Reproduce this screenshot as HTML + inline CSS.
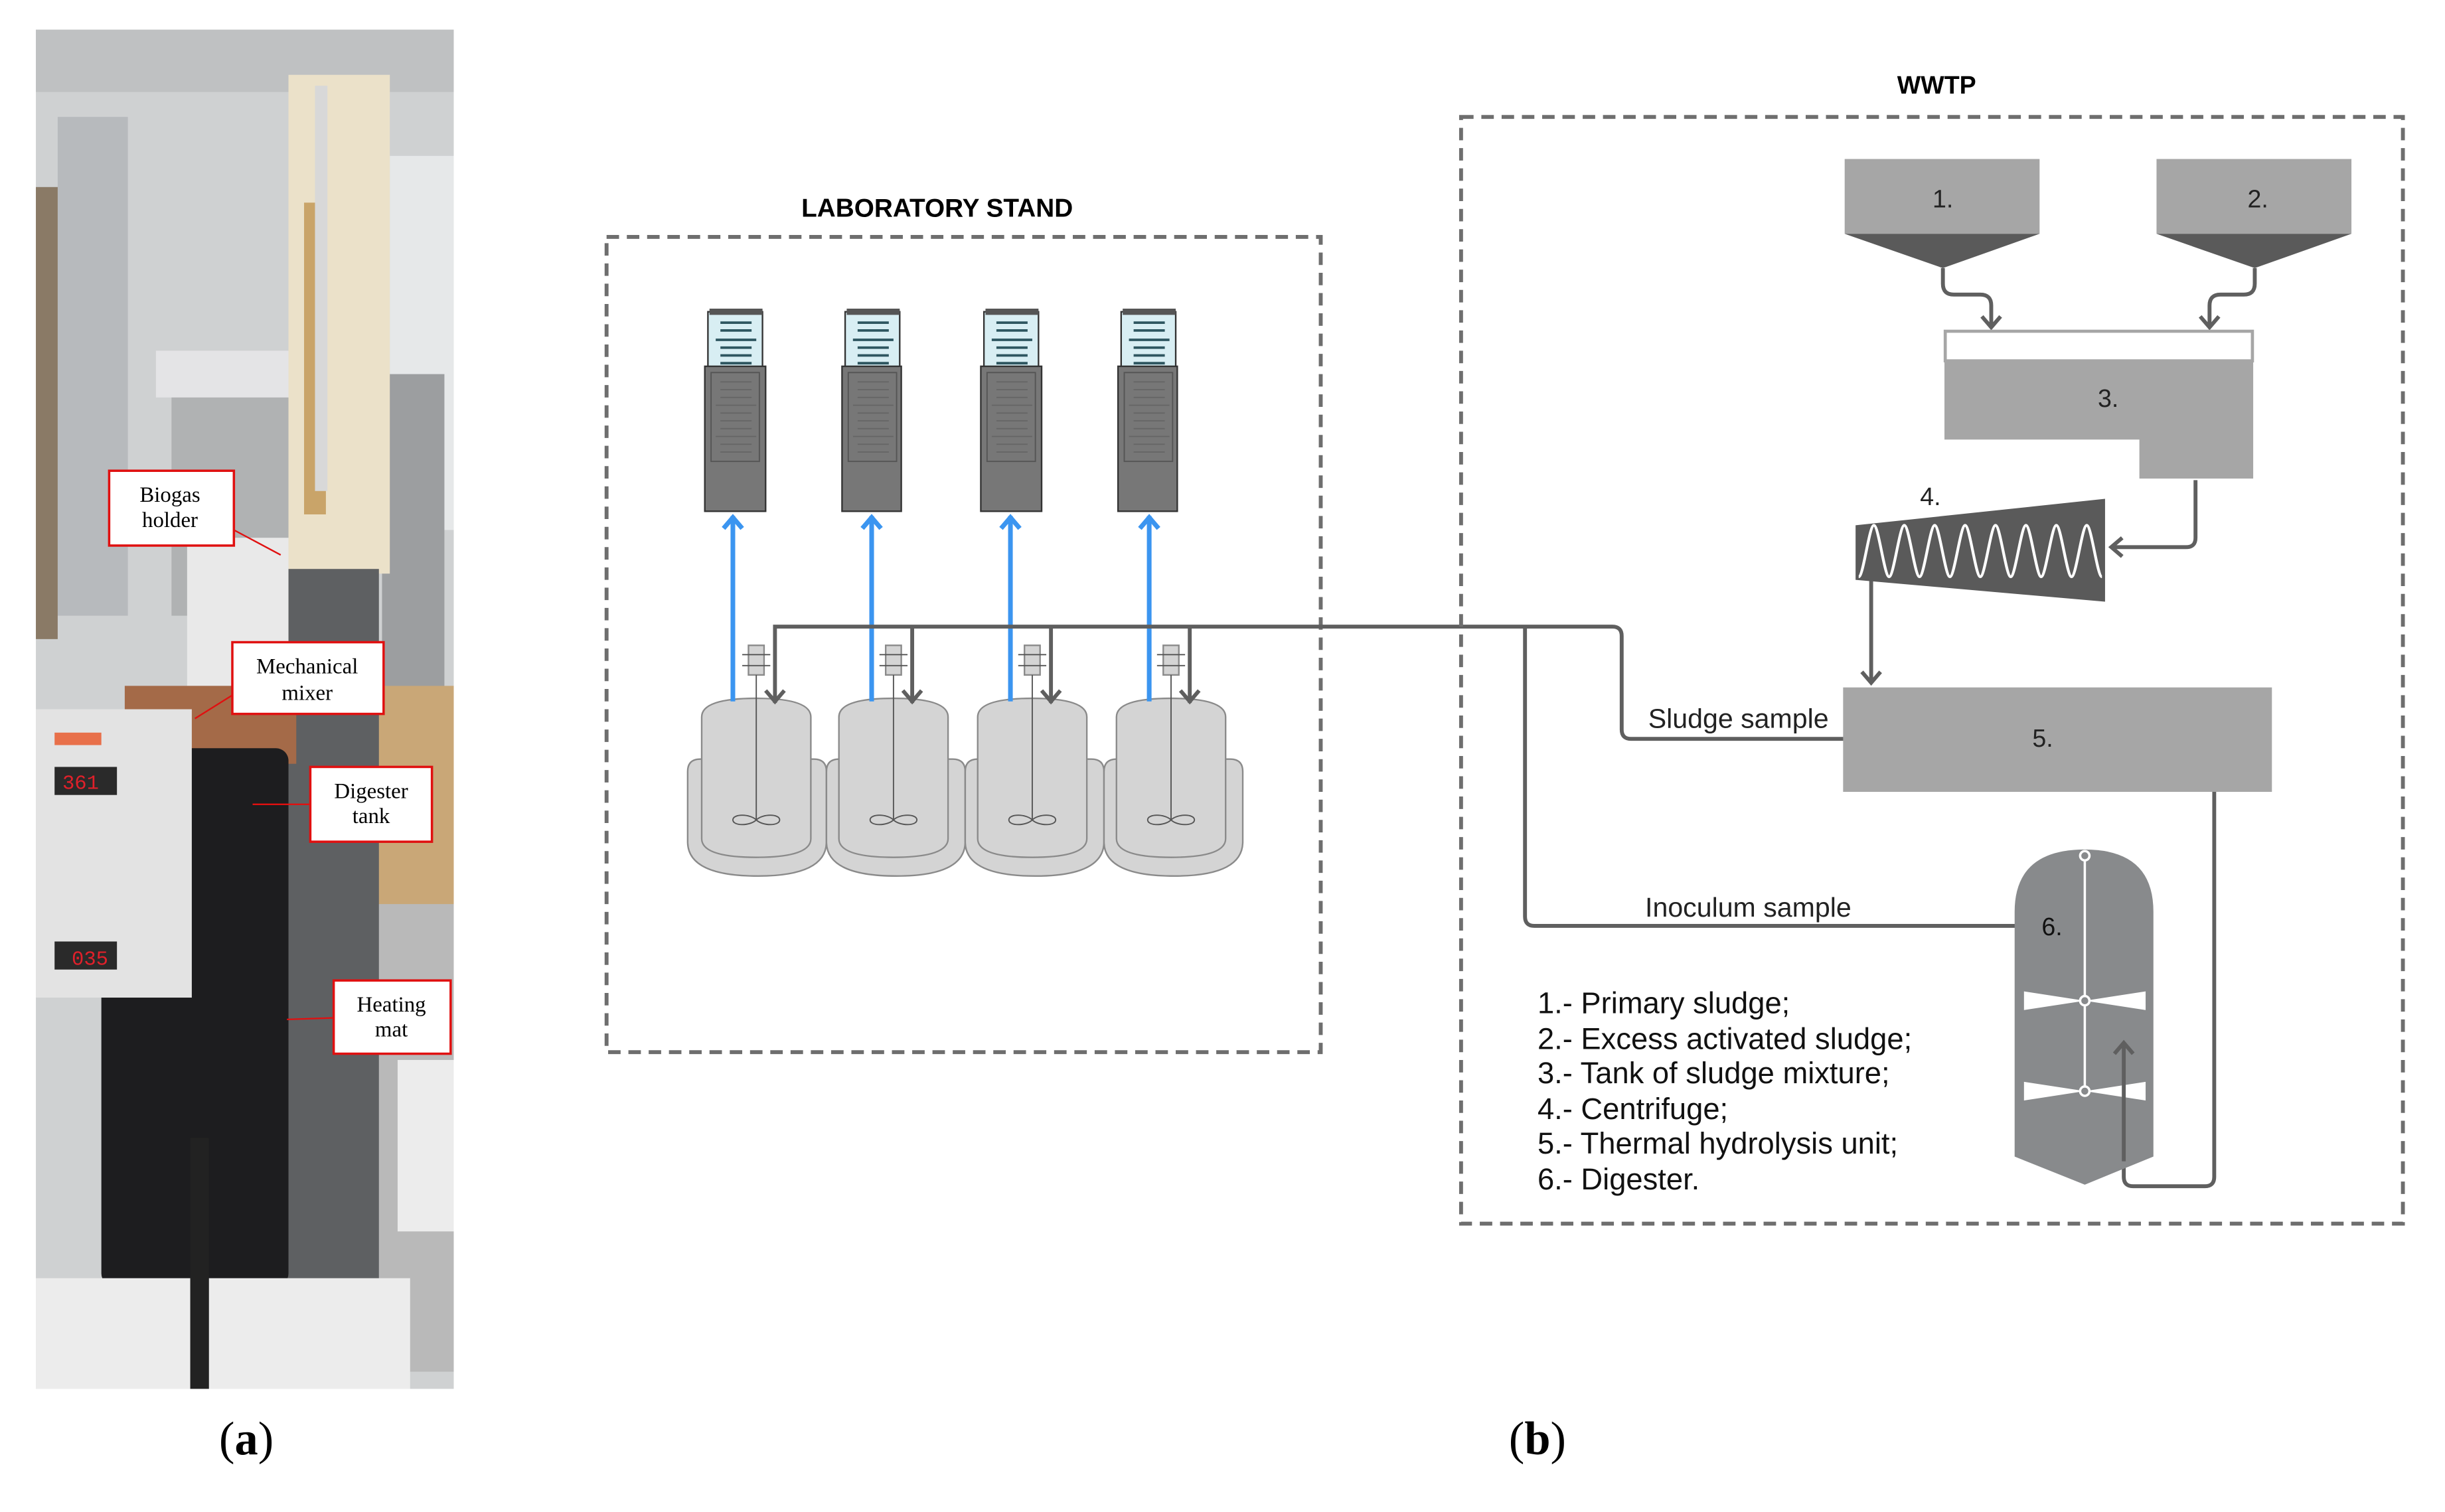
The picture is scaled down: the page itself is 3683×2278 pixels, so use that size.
<!DOCTYPE html>
<html><head><meta charset="utf-8"><style>
html,body{margin:0;padding:0;background:#fff;}
svg{display:block;}
</style></head><body>
<svg width="3683" height="2278" viewBox="0 0 1568 970" preserveAspectRatio="none" xmlns="http://www.w3.org/2000/svg">
<rect width="1568" height="970" fill="#fff"/>
<defs>
<clipPath id="ph"><rect x="23" y="19" width="268" height="872"/></clipPath>
</defs>

<!-- PHOTO (a) -->
<g clip-path="url(#ph)">
<rect x="23" y="19" width="268" height="872" fill="#cfd1d2"/>
<rect x="23" y="19" width="268" height="40" fill="#bfc1c2"/>
<rect x="37" y="75" width="45" height="320" fill="#b7babd"/>
<rect x="23" y="120" width="14" height="290" fill="#8a7a66"/>
<rect x="100" y="225" width="90" height="30" fill="#e4e4e6"/>
<rect x="110" y="255" width="85" height="140" fill="#b0b2b3"/>
<rect x="250" y="100" width="41" height="240" fill="#e6e8e9"/>
<rect x="245" y="240" width="40" height="250" fill="#9c9ea0"/>
<rect x="236" y="440" width="55" height="150" fill="#c9a777"/>
<rect x="240" y="580" width="51" height="300" fill="#b9b9b9"/>
<rect x="255" y="680" width="36" height="110" fill="#ececec"/>
<rect x="185" y="48" width="65" height="320" fill="#ebe1c9"/>
<rect x="195" y="130" width="14" height="200" fill="#c9a469"/>
<rect x="202" y="55" width="8" height="260" fill="#d8d8d8"/>
<rect x="183" y="365" width="60" height="520" fill="#5e6062"/>
<rect x="120" y="345" width="65" height="95" fill="#e9e9e9"/>
<rect x="80" y="440" width="110" height="50" fill="#a46a48"/>
<rect x="65" y="480" width="120" height="345" rx="8" fill="#1d1d1f"/>
<rect x="23" y="455" width="100" height="185" fill="#e3e3e3"/>
<rect x="35" y="492" width="40" height="18" fill="#2a2a2a"/>
<text x="40" y="506" font-family="Liberation Mono,monospace" font-size="13" fill="#e0202a">361</text>
<rect x="35" y="604" width="40" height="18" fill="#2a2a2a"/>
<text x="46" y="619" font-family="Liberation Mono,monospace" font-size="13" fill="#e0202a">035</text>
<rect x="35" y="470" width="30" height="8" fill="#e8704a"/>
<rect x="23" y="820" width="240" height="71" fill="#ececec"/>
<rect x="122" y="730" width="12" height="161" fill="#222"/>
</g>
<g font-family="Liberation Serif,serif" font-size="14" text-anchor="middle" fill="#000">
<rect x="70" y="302" width="80" height="48" fill="#fff" stroke="#e01010" stroke-width="1.5"/>
<text x="109" y="322">Biogas</text><text x="109" y="338">holder</text>
<line x1="150" y1="340" x2="180" y2="356" stroke="#e01010" stroke-width="1"/>
<rect x="149" y="412" width="97" height="46" fill="#fff" stroke="#e01010" stroke-width="1.5"/>
<text x="197" y="432">Mechanical</text><text x="197" y="449">mixer</text>
<line x1="149" y1="446" x2="125" y2="461" stroke="#e01010" stroke-width="1"/>
<rect x="199" y="492" width="78" height="48" fill="#fff" stroke="#e01010" stroke-width="1.5"/>
<text x="238" y="512">Digester</text><text x="238" y="528">tank</text>
<line x1="199" y1="516" x2="162" y2="516" stroke="#e01010" stroke-width="1"/>
<rect x="214" y="629" width="75" height="47" fill="#fff" stroke="#e01010" stroke-width="1.5"/>
<text x="251" y="649">Heating</text><text x="251" y="665">mat</text>
<line x1="214" y1="653" x2="184" y2="654" stroke="#e01010" stroke-width="1"/>
</g>

<text x="158" y="933" font-family="Liberation Serif,serif" font-size="30" text-anchor="middle">(<tspan font-weight="bold">a</tspan>)</text>
<text x="986" y="933" font-family="Liberation Serif,serif" font-size="30" text-anchor="middle">(<tspan font-weight="bold">b</tspan>)</text>

<!-- LAB STAND -->
<rect x="389" y="152" width="458" height="523" fill="none" stroke="#6e6e6e" stroke-width="2.5" stroke-dasharray="8,5"/>
<text x="601" y="139" font-family="Liberation Sans,sans-serif" font-size="16.5" font-weight="bold" text-anchor="middle">LABORATORY STAND</text>

<g>
<rect x="454" y="200" width="35" height="36" fill="#d8eef3" stroke="#333" stroke-width="1"/>
<rect x="452" y="235" width="39" height="93" fill="#777" stroke="#333" stroke-width="1"/>
<rect x="455" y="198" width="34" height="4" fill="#555"/>
<rect x="542" y="200" width="35" height="36" fill="#d8eef3" stroke="#333" stroke-width="1"/>
<rect x="540" y="235" width="38" height="93" fill="#777" stroke="#333" stroke-width="1"/>
<rect x="543" y="198" width="34" height="4" fill="#555"/>
<rect x="631" y="200" width="35" height="36" fill="#d8eef3" stroke="#333" stroke-width="1"/>
<rect x="629" y="235" width="39" height="93" fill="#777" stroke="#333" stroke-width="1"/>
<rect x="632" y="198" width="34" height="4" fill="#555"/>
<rect x="719" y="200" width="35" height="36" fill="#d8eef3" stroke="#333" stroke-width="1"/>
<rect x="717" y="235" width="38" height="93" fill="#777" stroke="#333" stroke-width="1"/>
<rect x="720" y="198" width="34" height="4" fill="#555"/>
</g>
<g stroke="#2e5660" stroke-width="1.6">
<path d="M462,207h20M462,212h20M459,218h26M462,223h20M462,228h20M462,233h20"/>
<path d="M550,207h20M550,212h20M547,218h26M550,223h20M550,228h20M550,233h20"/>
<path d="M639,207h20M639,212h20M636,218h26M639,223h20M639,228h20M639,233h20"/>
<path d="M727,207h20M727,212h20M724,218h26M727,223h20M727,228h20M727,233h20"/>
</g>
<g fill="none" stroke="#555" stroke-width="0.8">
<rect x="456" y="239" width="31" height="57"/><rect x="544" y="239" width="31" height="57"/>
<rect x="633" y="239" width="31" height="57"/><rect x="721" y="239" width="31" height="57"/>
</g>
<g stroke="#666" stroke-width="0.8">
<path d="M462,245h20M462,250h20M462,255h20M459,260h26M462,265h20M462,270h20M462,275h20M459,280h26M462,285h20M462,290h20"/>
<path d="M550,245h20M550,250h20M550,255h20M547,260h26M550,265h20M550,270h20M550,275h20M547,280h26M550,285h20M550,290h20"/>
<path d="M639,245h20M639,250h20M639,255h20M636,260h26M639,265h20M639,270h20M639,275h20M636,280h26M639,285h20M639,290h20"/>
<path d="M727,245h20M727,250h20M727,255h20M724,260h26M727,265h20M727,270h20M727,275h20M724,280h26M727,285h20M727,290h20"/>
</g>

<!-- reactors -->
<g fill="#d4d4d4" stroke="#8a8a8a" stroke-width="1">
<path d="M441,495 q0,-8 8,-8 h73 q8,0 8,8 v45 q0,22 -44,22 q-45,0 -45,-22z"/>
<path d="M530,495 q0,-8 8,-8 h73 q8,0 8,8 v45 q0,22 -44,22 q-45,0 -45,-22z"/>
<path d="M619,495 q0,-8 8,-8 h73 q8,0 8,8 v45 q0,22 -44,22 q-45,0 -45,-22z"/>
<path d="M708,495 q0,-8 8,-8 h73 q8,0 8,8 v45 q0,22 -44,22 q-45,0 -45,-22z"/>
<path d="M450,460 q0,-12 35,-12 q35,0 35,12 v78 q0,12 -35,12 q-35,0 -35,-12z"/>
<path d="M538,460 q0,-12 35,-12 q35,0 35,12 v78 q0,12 -35,12 q-35,0 -35,-12z"/>
<path d="M627,460 q0,-12 35,-12 q35,0 35,12 v78 q0,12 -35,12 q-35,0 -35,-12z"/>
<path d="M716,460 q0,-12 35,-12 q35,0 35,12 v78 q0,12 -35,12 q-35,0 -35,-12z"/>
<rect x="480" y="414" width="10" height="19"/><rect x="568" y="414" width="10" height="19"/>
<rect x="657" y="414" width="10" height="19"/><rect x="746" y="414" width="10" height="19"/>
</g>
<g stroke="#555" stroke-width="0.8" fill="none">
<path d="M485,433v93M573,433v93M662,433v93M751,433v93"/>
<path d="M476,420h18M476,427h18M564,420h18M564,427h18M653,420h18M653,427h18M742,420h18M742,427h18"/>
<path d="M485,526c-4,-4 -15,-4 -15,0c0,4 11,4 15,0c4,-4 15,-4 15,0c0,4 -11,4 -15,0z"/>
<path d="M573,526c-4,-4 -15,-4 -15,0c0,4 11,4 15,0c4,-4 15,-4 15,0c0,4 -11,4 -15,0z"/>
<path d="M662,526c-4,-4 -15,-4 -15,0c0,4 11,4 15,0c4,-4 15,-4 15,0c0,4 -11,4 -15,0z"/>
<path d="M751,526c-4,-4 -15,-4 -15,0c0,4 11,4 15,0c4,-4 15,-4 15,0c0,4 -11,4 -15,0z"/>
</g>
<!-- blue arrows -->
<g stroke="#3b95f0" stroke-width="3" fill="none">
<path d="M470,450V331M559,450V331M648,450V331M737,450V331"/>
<path d="M464,339l6,-7l6,7M553,339l6,-7l6,7M642,339l6,-7l6,7M731,339l6,-7l6,7"/>
</g>
<!-- gray pipes -->
<g stroke="#5f5f5f" stroke-width="2.5" fill="none">
<path d="M497,451V402H1034q6,0 6,6V468q0,6 6,6H1183"/>
<path d="M585,402V451M674,402V451M763,402V451"/>
<path d="M978,402V588q0,6 6,6H1293"/>
<path d="M491,443l6,7l6,-7M579,443l6,7l6,-7M668,443l6,7l6,-7M757,443l6,7l6,-7"/>
</g>

<!-- WWTP -->
<rect x="937" y="75" width="604" height="710" fill="none" stroke="#6e6e6e" stroke-width="2.5" stroke-dasharray="8,5"/>
<text x="1242" y="60" font-family="Liberation Sans,sans-serif" font-size="16" font-weight="bold" text-anchor="middle">WWTP</text>
<rect x="1183" y="102" width="125" height="48" fill="#a6a6a6"/>
<polygon points="1183,150 1308,150 1246,172" fill="#5a5a5a"/>
<rect x="1383" y="102" width="125" height="48" fill="#a6a6a6"/>
<polygon points="1383,150 1508,150 1446,172" fill="#5a5a5a"/>
<g font-family="Liberation Sans,sans-serif" font-size="16" text-anchor="middle" fill="#222">
<text x="1246" y="133">1.</text><text x="1448" y="133">2.</text>
</g>
<g stroke="#5f5f5f" stroke-width="2.5" fill="none">
<path d="M1246,172v10q0,7 7,7h17q7,0 7,7v14"/>
<path d="M1271,203l6,7l6,-7"/>
<path d="M1446,172v10q0,7 -7,7h-15q-7,0 -7,7v14"/>
<path d="M1411,203l6,7l6,-7"/>
<path d="M1408,308v37q0,6 -6,6h-48"/>
<path d="M1361,345l-7,6l7,6"/>
<path d="M1200,372V437"/>
<path d="M1194,431l6,7l6,-7"/>
<path d="M1420,508V755q0,6 -6,6H1368q-6,0 -6,-6V669"/>
<path d="M1356,676l6,-7l6,7"/>
</g>
<rect x="1247.5" y="212.5" width="197" height="19" fill="#fff" stroke="#a6a6a6" stroke-width="2"/>
<polygon points="1247,231 1445,231 1445,307 1372,307 1372,282 1247,282" fill="#a6a6a6"/>
<text x="1352" y="261" font-family="Liberation Sans,sans-serif" font-size="16" text-anchor="middle" fill="#222">3.</text>
<polygon points="1190,337 1350,320 1350,386 1190,372" fill="#5a5a5a"/>
<path d="M1192,370c3,0 6.75,-33 9.75,-33c3,0 6.75,33 9.75,33c3,0 6.75,-33 9.75,-33c3,0 6.75,33 9.75,33c3,0 6.75,-33 9.75,-33c3,0 6.75,33 9.75,33c3,0 6.75,-33 9.75,-33c3,0 6.75,33 9.75,33c3,0 6.75,-33 9.75,-33c3,0 6.75,33 9.75,33c3,0 6.75,-33 9.75,-33c3,0 6.75,33 9.75,33c3,0 6.75,-33 9.75,-33c3,0 6.75,33 9.75,33c3,0 6.75,-33 9.75,-33c3,0 6.75,33 9.75,33" fill="none" stroke="#fff" stroke-width="1.8"/>
<text x="1238" y="324" font-family="Liberation Sans,sans-serif" font-size="16" text-anchor="middle" fill="#222">4.</text>
<rect x="1182" y="441" width="275" height="67" fill="#a6a6a6"/>
<text x="1310" y="479" font-family="Liberation Sans,sans-serif" font-size="16" text-anchor="middle" fill="#222">5.</text>
<g font-family="Liberation Sans,sans-serif" font-size="17.5" fill="#222">
<text x="1057" y="467">Sludge sample</text>
<text x="1055" y="588">Inoculum sample</text>
</g>
<!-- digester -->
<path d="M1292,585q0,-40 45,-40q44,0 44,40V742L1337,760L1292,742z" fill="#888a8c"/>
<g fill="#fff">
<polygon points="1298,636 1337,642 1298,648"/><polygon points="1376,636 1337,642 1376,648"/>
<polygon points="1298,694 1337,700 1298,706"/><polygon points="1376,694 1337,700 1376,706"/>
</g>
<path d="M1337,549V700" stroke="#fff" stroke-width="1.5"/>
<g fill="#888a8c" stroke="#fff" stroke-width="1.5"><circle cx="1337" cy="549" r="3"/><circle cx="1337" cy="642" r="3"/><circle cx="1337" cy="700" r="3"/></g>
<path d="M1362,745V669M1356,676l6,-7l6,7" stroke="#5f5f5f" stroke-width="2.5" fill="none"/>
<text x="1316" y="600" font-family="Liberation Sans,sans-serif" font-size="16" text-anchor="middle" fill="#111">6.</text>

<g font-family="Liberation Sans,sans-serif" font-size="19.3" fill="#111">
<text x="986" y="650">1.- Primary sludge;</text>
<text x="986" y="673">2.- Excess activated sludge;</text>
<text x="986" y="695">3.- Tank of sludge mixture;</text>
<text x="986" y="718">4.- Centrifuge;</text>
<text x="986" y="740">5.- Thermal hydrolysis unit;</text>
<text x="986" y="763">6.- Digester.</text>
</g>
</svg>
</body></html>
